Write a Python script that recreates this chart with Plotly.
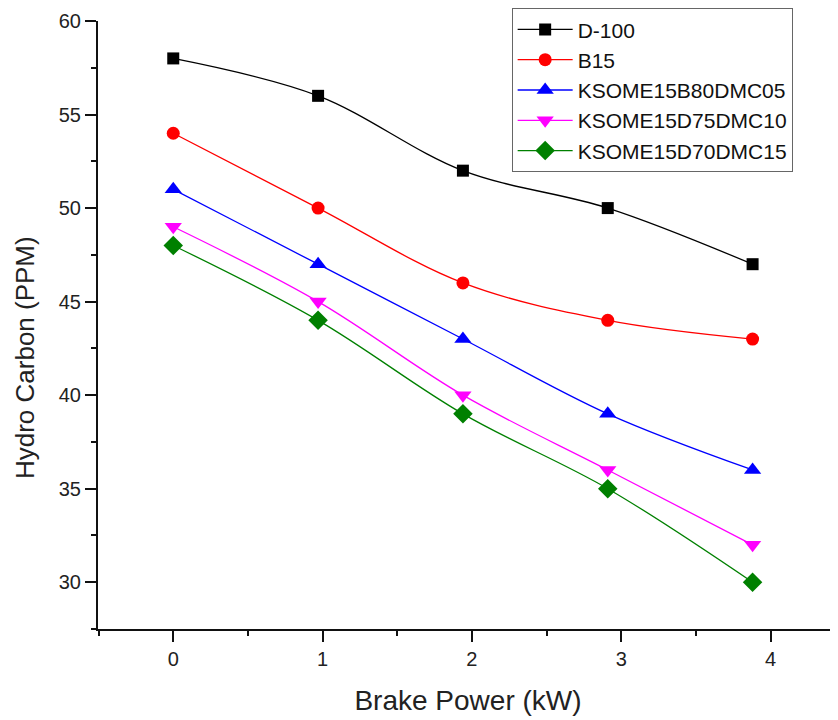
import plotly.graph_objects as go

brake_power = [0, 0.97, 1.94, 2.91, 3.88]
d100 = [58, 56, 52, 50, 47]
b15 = [54, 50, 46, 44, 43]
ksome_b80 = [51, 47, 43, 39, 36]
ksome_d75 = [49, 45, 40, 36, 32]
ksome_d70 = [48, 44, 39, 35, 30]

series = [
    ("D-100", d100, "black", "square", 12),
    ("B15", b15, "#FF0000", "circle", 13),
    ("KSOME15B80DMC05", ksome_b80, "#0000FF", "triangle-up", 15),
    ("KSOME15D75DMC10", ksome_d75, "#FF00FF", "triangle-down", 15),
    ("KSOME15D70DMC15", ksome_d70, "#008000", "diamond", 15),
]

fig = go.Figure()
for name, vals, color, sym, size in series:
    fig.add_trace(go.Scatter(
        x=brake_power, y=vals, name=name, mode="lines+markers",
        line=dict(color=color, width=1.3, shape="spline", smoothing=1.0),
        marker=dict(symbol=sym, size=size, color=color),
    ))

font = "Arial, Liberation Sans, sans-serif"
fig.update_layout(
    width=830, height=712,
    margin=dict(l=90, r=0, t=13, b=91),
    paper_bgcolor="white", plot_bgcolor="white",
    font=dict(family=font, size=20, color="#222"),
    showlegend=True,
    legend=dict(
        x=0.559, y=1.021, xanchor="left", yanchor="top",
        bordercolor="#666", borderwidth=1, bgcolor="white",
        font=dict(size=21, family=font, color="#111"),
        tracegroupgap=0, itemwidth=55,
    ),
    xaxis=dict(
        range=[-0.504, 4.452], showgrid=False, zeroline=False,
        showline=True, linecolor="#111", linewidth=2,
        ticks="outside", ticklen=11, tickwidth=2, tickcolor="#111",
        tick0=0, dtick=1,
        minor=dict(ticks="outside", ticklen=5, tickwidth=2, tickcolor="#111", dtick=0.5, tick0=0),
        tickfont=dict(size=20, family=font, color="#222"),
        title=dict(text="Brake Power (kW)", font=dict(size=28, family=font, color="#222"), standoff=21),
    ),
    yaxis=dict(
        range=[27.5, 60], showgrid=False, zeroline=False,
        showline=True, linecolor="#111", linewidth=2,
        ticks="outside", ticklen=11, tickwidth=2, tickcolor="#111",
        tick0=30, dtick=5,
        minor=dict(ticks="outside", ticklen=5, tickwidth=2, tickcolor="#111", dtick=2.5, tick0=30),
        tickfont=dict(size=20, family=font, color="#222"),
    ),
    annotations=[dict(
        text="Hydro Carbon (PPM)", textangle=-90, showarrow=False,
        xref="paper", yref="paper", x=-0.0986, y=0.4457,
        xanchor="center", yanchor="middle",
        font=dict(size=26, family=font, color="#222"),
    )],
)

fig.write_html("out.html")
